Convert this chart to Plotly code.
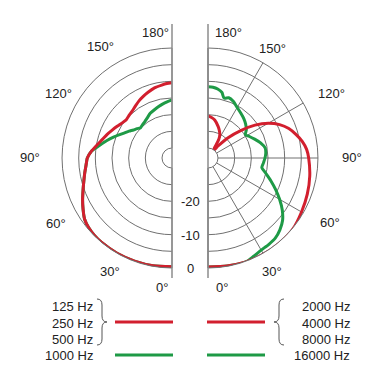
import plotly.graph_objects as go

W, H = 383, 378

# ---------------- data (dB vs angle in degrees) ----------------
# Left half: 125 / 250 / 500 Hz (red) and 1000 Hz (green)
left_red_theta = [0, 10, 20, 30, 40, 45, 50, 55, 60, 65, 70, 75, 80, 85, 90, 95,
                  100, 105, 110, 115, 120, 126, 130, 135, 139, 145, 150, 155, 160,
                  166, 172, 176, 180]
left_red_db = [-0.4, -0.2, -0.1, 0.0, 0.0, -0.1, -0.4, -1.0, -2.2, -3.4, -4.6, -5.6,
               -6.4, -7.1, -7.6, -8.8, -10.2, -11.4, -12.3, -13.2, -14.0, -14.8,
               -15.1, -14.85, -14.6, -13.9, -13.2, -12.6, -12.0, -11.3, -10.9,
               -10.6, -10.4]

left_green_theta = [0, 10, 20, 30, 40, 45, 50, 55, 60, 65, 70, 75, 80, 85, 90, 95,
                    100, 105, 110, 114, 118, 122, 126, 130, 134, 138, 143, 148, 154,
                    160, 165, 170, 175, 180]
left_green_db = [-0.4, -0.2, -0.1, 0.0, 0.0, -0.1, -0.4, -1.0, -2.2, -3.4, -4.6, -5.6,
                 -6.4, -7.1, -7.6, -8.8, -11.0, -12.8, -14.5, -15.8, -16.9, -17.8,
                 -18.7, -19.3, -19.9, -19.7, -19.4, -18.9, -18.1, -17.6, -17.1,
                 -16.6, -16.1, -15.6]

# Right half: 2000 / 4000 / 8000 Hz (red) and 16000 Hz (green)
right_red_theta = [0, 10, 20, 30, 40, 50, 60, 70, 80, 90, 95, 100, 105, 110, 115,
                   120, 125, 130, 135, 140, 143, 146, 148, 150, 153, 157, 162, 170,
                   175, 180]
right_red_db = [-0.3, -0.1, 0.2, 0.3, 0.3, 0.2, -0.6, -1.3, -2.0, -2.8, -3.3, -4.3,
                -5.7, -7.2, -9.3, -12.1, -15.8, -20.2, -24.3, -28.3, -30.0, -29.8,
                -29.0, -26.5, -25.2, -24.2, -23.1, -21.4, -20.8, -20.4]

right_green_theta = [0, 10, 20, 25, 30, 35, 40, 45, 50, 55, 60, 65, 70, 75, 80, 85,
                     90, 95, 100, 106, 112, 118, 122, 126, 132, 138, 144, 150, 156,
                     161, 165, 168, 172, 176, 180]
right_green_db = [-0.3, -0.1, 0.2, -0.5, -1.1, -1.3, -1.6, -2.5, -3.8, -5.8, -8.2,
                  -10.6, -12.9, -15.0, -16.6, -16.3, -15.9, -15.6, -15.6, -16.6,
                  -17.9, -19.1, -19.8, -18.8, -17.8, -17.0, -16.3, -15.5, -14.4,
                  -13.9, -14.4, -12.9, -12.1, -11.7, -11.6]

# axis ticks / labels
ring_db = [-30, -25, -20, -15, -10, -5]
spoke_deg = [0, 30, 60, 90, 120, 150, 180]
angle_labels = ["0°", "30°", "60°", "90°", "120°", "150°", "180°"]
db_labels = ["-20", "-10", "0"]
left_legend = ["125 Hz", "250 Hz", "500 Hz", "1000 Hz"]
right_legend = ["2000 Hz", "4000 Hz", "8000 Hz", "16000 Hz"]

# ---------------- style ----------------
RED = "#d21f2e"
GREEN = "#1e9a46"
GRID = "#707070"
TXT = "#222222"
FONT = "Liberation Sans, Arial, sans-serif"
FS = 13


def px(x):
    return x / W


def py(y):
    return 1 - y / H


fig = go.Figure()

for sub, th, r, col in [
    ("polar", left_green_theta, left_green_db, GREEN),
    ("polar", left_red_theta, left_red_db, RED),
    ("polar2", right_green_theta, right_green_db, GREEN),
    ("polar2", right_red_theta, right_red_db, RED),
]:
    fig.add_trace(go.Scatterpolar(
        r=r, theta=th, mode="lines", subplot=sub, cliponaxis=False,
        line=dict(color=col, width=3, shape="spline", smoothing=0.6),
        showlegend=False, hoverinfo="skip"))


def polar_layout(xdom, direction, sector):
    return dict(
        domain=dict(x=xdom, y=[py(268), py(48)]),
        sector=sector,
        hole=10 / 110,
        bgcolor="rgba(0,0,0,0)",
        radialaxis=dict(range=[-30, 0], tickmode="array", tickvals=ring_db,
                        showticklabels=False, ticks="", showline=False,
                        gridcolor=GRID, gridwidth=0.9),
        angularaxis=dict(rotation=-90, direction=direction, tickmode="array",
                         tickvals=spoke_deg, showticklabels=False, ticks="",
                         showline=True, linecolor=GRID, linewidth=1,
                         gridcolor=GRID, gridwidth=0.9),
    )


annotations = []
left_pos = [(162, 287), (110, 271), (56, 223), (30, 158), (58, 93), (100, 47), (155, 32)]
right_pos = [(222, 287), (272, 271), (330, 222), (352, 158), (331, 93), (272, 48), (228, 32)]
for lab, (x, y) in zip(angle_labels, left_pos):
    annotations.append(dict(text=lab, x=px(x), y=py(y)))
for lab, (x, y) in zip(angle_labels, right_pos):
    annotations.append(dict(text=lab, x=px(x), y=py(y)))
for lab, y in zip(db_labels, [201, 235, 268]):
    annotations.append(dict(text=lab, x=px(190), y=py(y)))
leg_y = [306, 323, 339, 355]
for lab, y in zip(left_legend, leg_y):
    annotations.append(dict(text=lab, x=px(95), y=py(y), xanchor="right"))
for lab, y in zip(right_legend, leg_y):
    annotations.append(dict(text=lab, x=px(352), y=py(y), xanchor="right"))
for a in annotations:
    a.update(xref="paper", yref="paper", showarrow=False,
             font=dict(family=FONT, size=FS, color=TXT))
    a.setdefault("xanchor", "center")
    a["yanchor"] = "middle"


def path(points):
    out = []
    for cmd, *coords in points:
        vals = []
        for i in range(0, len(coords), 2):
            vals.append(f"{px(coords[i]):.5f},{py(coords[i + 1]):.5f}")
        out.append(cmd + " " + " ".join(vals))
    return " ".join(out)


brace_left = path([("M", 97, 299), ("Q", 102, 299, 102, 305), ("L", 102, 316),
                   ("Q", 102, 322, 107, 322), ("Q", 102, 322, 102, 328),
                   ("L", 102, 339), ("Q", 102, 345, 97, 345)])
brace_right = path([("M", 284, 299), ("Q", 279, 299, 279, 305), ("L", 279, 316),
                    ("Q", 279, 322, 274, 322), ("Q", 279, 322, 279, 328),
                    ("L", 279, 339), ("Q", 279, 345, 284, 345)])

shapes = [
    dict(type="line", x0=px(172), x1=px(172), y0=py(24), y1=py(278),
         line=dict(color="#8c8c8c", width=1.5)),
    dict(type="line", x0=px(208), x1=px(208), y0=py(24), y1=py(278),
         line=dict(color="#8c8c8c", width=1.5)),
    dict(type="path", path=brace_left, line=dict(color="#555555", width=1)),
    dict(type="path", path=brace_right, line=dict(color="#555555", width=1)),
    dict(type="line", x0=px(115), x1=px(173), y0=py(322), y1=py(322),
         line=dict(color=RED, width=3)),
    dict(type="line", x0=px(207), x1=px(265), y0=py(322), y1=py(322),
         line=dict(color=RED, width=3)),
    dict(type="line", x0=px(115), x1=px(173), y0=py(355), y1=py(355),
         line=dict(color=GREEN, width=3)),
    dict(type="line", x0=px(207), x1=px(265), y0=py(355), y1=py(355),
         line=dict(color=GREEN, width=3)),
]
for s in shapes:
    s.update(xref="paper", yref="paper")

fig.update_layout(
    width=W, height=H, autosize=False,
    margin=dict(l=0, r=0, t=0, b=0),
    paper_bgcolor="white", plot_bgcolor="white",
    polar=polar_layout([px(62), px(172)], "clockwise", [90, 270]),
    polar2=polar_layout([px(208), px(318)], "counterclockwise", [-90, 90]),
    annotations=annotations,
    shapes=shapes,
    showlegend=False,
)

fig.write_html(
    "out.html",
    config={"displayModeBar": False},
    post_script="document.body.style.margin='0';document.body.style.padding='0';",
)
